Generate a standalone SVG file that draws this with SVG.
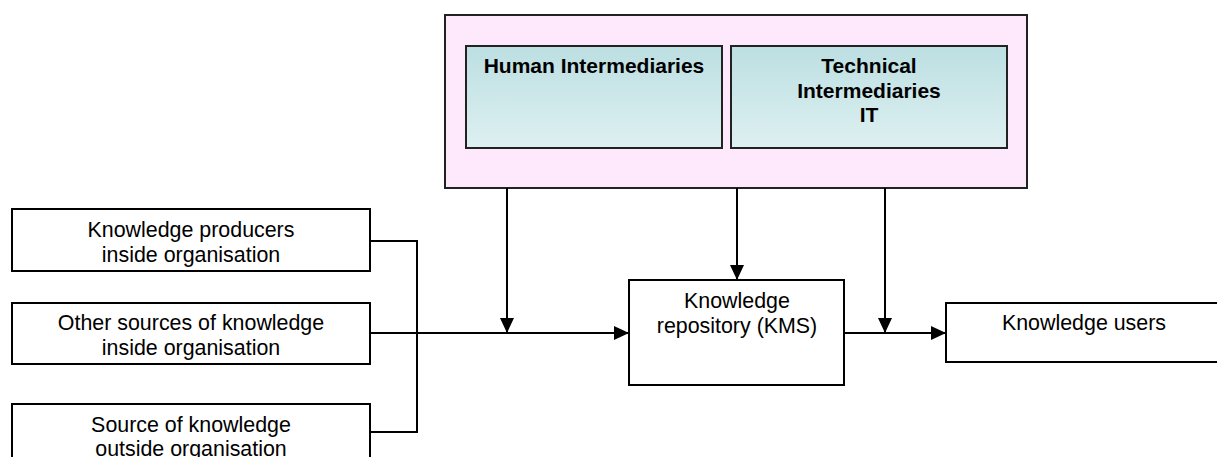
<svg xmlns="http://www.w3.org/2000/svg" width="1217" height="457" viewBox="0 0 1217 457">
<style>
.box{fill:#ffffff;stroke:#000;stroke-width:2}
.inter{fill:url(#g);stroke:#222;stroke-width:2}
.t{font-family:"Liberation Sans",Arial,sans-serif;font-size:21.4px;fill:#000;text-anchor:middle}
.b{font-weight:bold;font-size:21px}
.c{fill:none;stroke:#000;stroke-width:2}
</style>
<defs>
<linearGradient id="g" x1="0" y1="0" x2="0" y2="1">
<stop offset="0" stop-color="#bcdfe2"/>
<stop offset="1" stop-color="#def0f1"/>
</linearGradient>
<marker id="a" markerWidth="15" markerHeight="14" refX="15" refY="7" orient="auto" markerUnits="userSpaceOnUse">
<path d="M0,0 L15,7 L0,14 Z" fill="#000"/>
</marker>
</defs>
<g id="intermediaries">
<rect x="445" y="15" width="582" height="173" fill="#fde9fb" stroke="#222" stroke-width="2"/>
</g>
<g id="human">
<rect class="inter" x="466" y="46" width="256" height="102"/>
<text class="t b" x="594" y="73">Human Intermediaries</text>
</g>
<g id="technical">
<rect class="inter" x="731" y="46" width="276" height="102"/>
<text class="t b" x="869" y="73">Technical</text>
<text class="t b" x="869" y="98">Intermediaries</text>
<text class="t b" x="869" y="122">IT</text>
</g>
<g id="producers">
<rect class="box" x="12" y="209" width="358" height="62"/>
<text class="t" x="191" y="237">Knowledge producers</text>
<text class="t" x="191" y="262">inside organisation</text>
</g>
<g id="other">
<rect class="box" x="12" y="303" width="358" height="61"/>
<text class="t" x="191" y="330">Other sources of knowledge</text>
<text class="t" x="191" y="355">inside organisation</text>
</g>
<g id="outside">
<rect class="box" x="12" y="404" width="358" height="70"/>
<text class="t" x="191" y="432">Source of knowledge</text>
<text class="t" x="191" y="456">outside organisation</text>
</g>
<g id="kms">
<rect class="box" x="629" y="280" width="215" height="105"/>
<text class="t" x="737" y="308">Knowledge</text>
<text class="t" x="737" y="333">repository (KMS)</text>
</g>
<g id="users">
<rect class="box" x="946" y="303" width="280" height="59"/>
<text class="t" x="1084" y="330">Knowledge users</text>
</g>
<g id="connectors">
<path class="c" d="M370,241 H417 V432 H370"/>
<path class="c" d="M370,333 H629" marker-end="url(#a)"/>
<path class="c" d="M507,188 V333" marker-end="url(#a)"/>
<path class="c" d="M737,188 V280" marker-end="url(#a)"/>
<path class="c" d="M885,188 V333" marker-end="url(#a)"/>
<path class="c" d="M844,333 H946" marker-end="url(#a)"/>
</g>
</svg>
